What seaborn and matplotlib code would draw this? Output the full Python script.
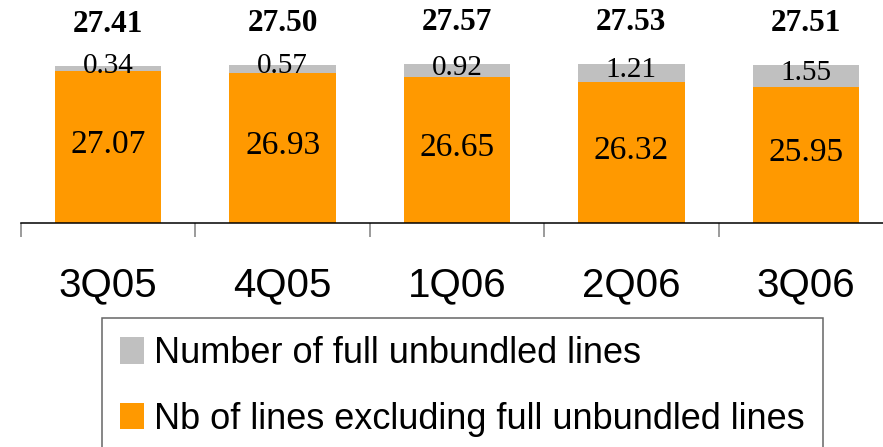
import matplotlib
matplotlib.use("Agg")
import matplotlib.pyplot as plt
import seaborn as sns
import pandas as pd
from matplotlib.patches import Patch

quarters = ["3Q05", "4Q05", "1Q06", "2Q06", "3Q06"]
excl_lines = [27.07, 26.93, 26.65, 26.32, 25.95]
unbundled = [0.34, 0.57, 0.92, 1.21, 1.55]
totals = [27.41, 27.50, 27.57, 27.53, 27.51]
legend_labels = ["Number of full unbundled lines",
                 "Nb of lines excluding full unbundled lines"]

ORANGE = "#FF9900"
GRAY = "#C0C0C0"

df = pd.DataFrame({"quarter": quarters,
                   "excl": excl_lines,
                   "unb": unbundled})
df["stack"] = df["excl"] + df["unb"]

W, H = 883, 447
fig = plt.figure(figsize=(W / 100, H / 100), dpi=100)
ax = fig.add_axes([21 / W, 1 - 223 / H, 872 / W, 223 / H])

sns.barplot(data=df, x="quarter", y="stack", color=GRAY, saturation=1,
            width=0.61, ax=ax, order=quarters)
sns.barplot(data=df, x="quarter", y="excl", color=ORANGE, saturation=1,
            width=0.61, ax=ax, order=quarters)

ax.set_xlim(-0.5, 4.5)
ax.set_ylim(16.59, 31.97)
ax.set_xlabel("")
ax.set_ylabel("")
ax.set_yticks([])
for s in ["left", "right", "top"]:
    ax.spines[s].set_visible(False)
ax.spines["bottom"].set_color("black")
ax.spines["bottom"].set_linewidth(1.1)

ax.set_xticks(range(len(quarters)))
ax.set_xticklabels(quarters, fontfamily="Liberation Sans", fontsize=29)
ax.tick_params(axis="x", which="major", length=0, pad=31)
ax.set_xticks([i - 0.5 for i in range(len(quarters) + 1)], minor=True)
ax.tick_params(axis="x", which="minor", length=10, width=1.1, color="#808080")

for i in range(len(quarters)):
    e = excl_lines[i]
    u = unbundled[i]
    ax.annotate(f"{e:.2f}", xy=(i, (16.59 + e) / 2), xytext=(0, 1.5),
                textcoords="offset points", ha="center", va="center",
                fontfamily="Liberation Serif", fontsize=24, color="black")
    ax.annotate(f"{u:.2f}", xy=(i, e + u / 2), xytext=(0, 2),
                textcoords="offset points", ha="center", va="center",
                fontfamily="Liberation Serif", fontsize=21, color="black")
    ax.annotate(f"{totals[i]:.2f}", xy=(i, e + u), xytext=(0, 30),
                textcoords="offset points", ha="center", va="center",
                fontfamily="Liberation Serif", fontweight="bold",
                fontsize=22.5, color="black", annotation_clip=False)

handles = [Patch(facecolor=GRAY, edgecolor="none"),
           Patch(facecolor=ORANGE, edgecolor="none")]
leg = fig.legend(handles, legend_labels, loc="upper left",
                 bbox_to_anchor=(102 / W, 1 - 318 / H),
                 bbox_transform=fig.transFigure,
                 prop={"family": "Liberation Sans", "size": 26},
                 frameon=True, fancybox=False, borderpad=0.5,
                 handlelength=0.67, handleheight=0.75, handletextpad=0.28,
                 labelspacing=0.85, borderaxespad=0)
leg.get_frame().set_edgecolor("#404040")
leg.get_frame().set_linewidth(1.1)

fig.savefig("out.png", dpi=100)
